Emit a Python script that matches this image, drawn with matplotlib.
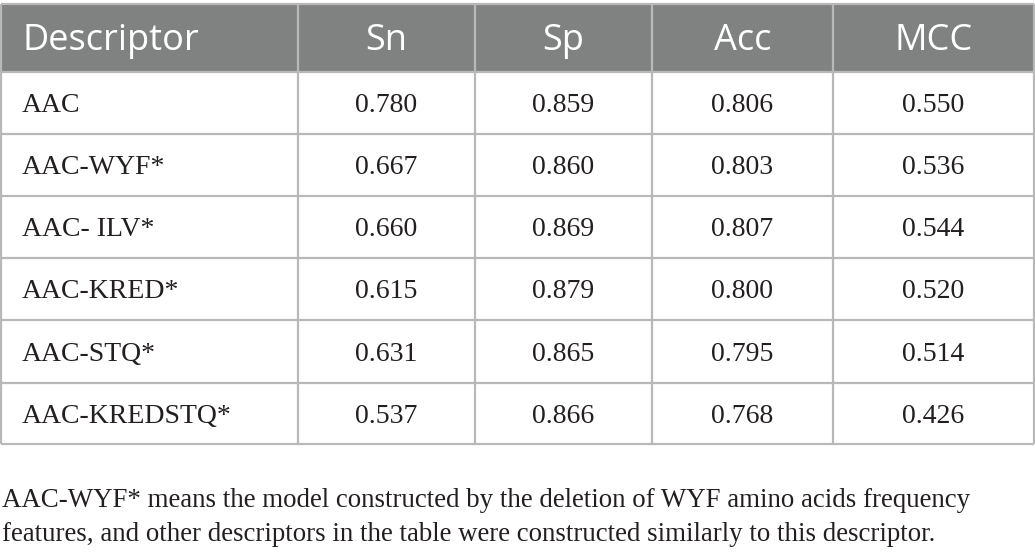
import matplotlib
matplotlib.use("Agg")
import matplotlib.pyplot as plt
from matplotlib.patches import Rectangle

headers = ["Descriptor", "Sn", "Sp", "Acc", "MCC"]
descriptors = ["AAC", "AAC-WYF*", "AAC- ILV*", "AAC-KRED*", "AAC-STQ*", "AAC-KREDSTQ*"]
sn = ["0.780", "0.667", "0.660", "0.615", "0.631", "0.537"]
sp = ["0.859", "0.860", "0.869", "0.879", "0.865", "0.866"]
acc = ["0.806", "0.803", "0.807", "0.800", "0.795", "0.768"]
mcc = ["0.550", "0.536", "0.544", "0.520", "0.514", "0.426"]
footnote = ["AAC-WYF* means the model constructed by the deletion of WYF amino acids frequency",
            "features, and other descriptors in the table were constructed similarly to this descriptor."]

W, H = 1035, 559
fig = plt.figure(figsize=(W / 100, H / 100), dpi=100)
ax = fig.add_axes([0, 0, 1, 1])
ax.set_xlim(0, W)
ax.set_ylim(H, 0)
ax.axis("off")

col_x = [1, 298, 475, 652, 833, 1034]
row_y = [4, 72, 134, 196, 258, 320, 383, 444]
line_c = "#b8b8b8"
hdr_c = "#808281"
txt_c = "#231f20"

# header background
ax.add_patch(Rectangle((col_x[0], row_y[0]), col_x[-1] - col_x[0], row_y[1] - row_y[0],
                       facecolor=hdr_c, edgecolor="none", zorder=1))

# grid lines
for y in row_y:
    ax.plot([col_x[0], col_x[-1]], [y, y], color=line_c, lw=1.6, zorder=2, solid_capstyle="butt")
for x in col_x:
    ax.plot([x, x], [row_y[0], row_y[-1]], color=line_c, lw=1.6, zorder=2, solid_capstyle="butt")

hfont = dict(family="Open Sans", fontsize=26, color="white")
hbase = 50
for i, h in enumerate(headers):
    if i == 0:
        ax.text(22, hbase, h, ha="left", va="baseline", **hfont, zorder=3)
    else:
        ax.text((col_x[i] + col_x[i + 1]) / 2, hbase, h, ha="center", va="baseline", **hfont, zorder=3)

bfont = dict(family="Liberation Serif", fontsize=20, color=txt_c)
cols = [descriptors, sn, sp, acc, mcc]
for r in range(len(descriptors)):
    yc = (row_y[r + 1] + row_y[r + 2]) / 2
    for c, vals in enumerate(cols):
        if c == 0:
            ax.text(22, yc, vals[r], ha="left", va="center_baseline", **bfont, zorder=3)
        else:
            ax.text((col_x[c] + col_x[c + 1]) / 2, yc, vals[r], ha="center",
                    va="center_baseline", **bfont, zorder=3)

ffont = dict(family="Liberation Serif", fontsize=19.4, color=txt_c)
ax.text(2, 507, footnote[0], ha="left", va="baseline", **ffont)
ax.text(2, 541, footnote[1], ha="left", va="baseline", **ffont)

fig.savefig("out.png", dpi=100, facecolor="white")
